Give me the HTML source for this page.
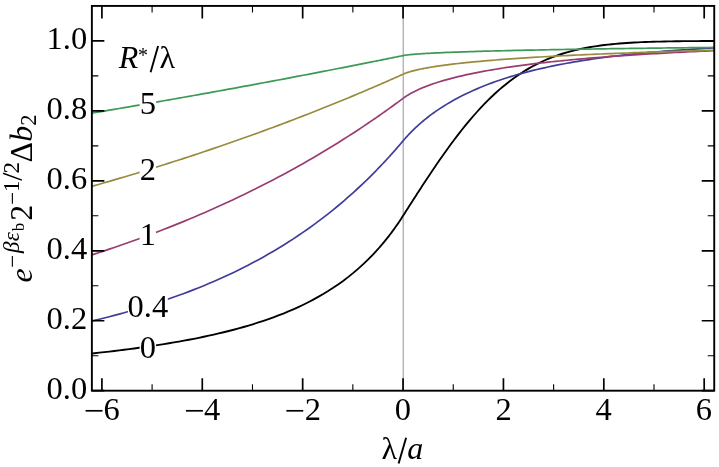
<!DOCTYPE html>
<html><head><meta charset="utf-8"><title>chart</title>
<style>html,body{margin:0;padding:0;background:#fff;overflow:hidden}svg{display:block;will-change:transform}</style></head>
<body>
<svg width="719" height="467" viewBox="0 0 719 467">
<rect width="719" height="467" fill="#fff"/>
<defs><clipPath id="c"><rect x="91.87" y="5.92" width="622.36" height="384.78"/></clipPath></defs>
<line x1="403.25" x2="403.25" y1="5.92" y2="390.70" stroke="#adadad" stroke-width="1.3"/>
<g clip-path="url(#c)" fill="none" stroke-linejoin="round">
<path d="M89.36,353.74 L94.34,353.22 L99.31,352.68 L104.29,352.13 L109.26,351.56 L114.24,350.98 L119.21,350.38 L124.19,349.76 L129.16,349.12 L134.14,348.47 L139.11,347.79 L144.09,347.10 L149.06,346.38 L154.04,345.64 L159.01,344.88 L163.99,344.09 L168.96,343.28 L173.94,342.44 L178.91,341.57 L183.89,340.68 L188.86,339.75 L193.84,338.79 L198.81,337.79 L203.79,336.76 L208.76,335.70 L213.74,334.59 L218.71,333.44 L223.69,332.25 L228.66,331.02 L233.64,329.73 L238.61,328.39 L243.59,327.00 L248.56,325.55 L253.54,324.05 L258.51,322.47 L263.49,320.83 L268.46,319.12 L273.44,317.34 L278.41,315.47 L283.39,313.52 L288.36,311.47 L293.34,309.33 L298.31,307.09 L303.29,304.73 L308.26,302.26 L313.24,299.66 L318.21,296.93 L323.19,294.05 L328.16,291.02 L333.14,287.82 L338.11,284.45 L343.09,280.89 L348.06,277.12 L353.04,273.12 L358.01,268.89 L362.99,264.41 L367.96,259.64 L372.94,254.57 L373.94,253.51 L374.94,252.44 L375.95,251.35 L376.95,250.24 L377.96,249.13 L378.96,248.00 L379.96,246.85 L380.97,245.69 L381.97,244.51 L382.97,243.32 L383.98,242.11 L384.98,240.89 L385.99,239.65 L386.99,238.40 L387.99,237.12 L389.00,235.83 L390.00,234.53 L391.00,233.20 L392.01,231.86 L393.01,230.50 L394.02,229.12 L395.02,227.72 L396.02,226.30 L397.03,224.86 L398.03,223.40 L399.03,221.92 L400.04,220.43 L401.04,218.91 L402.05,217.36 L403.05,215.80 L404.05,214.23 L405.06,212.65 L406.06,211.08 L407.07,209.50 L408.07,207.93 L409.07,206.36 L410.08,204.79 L411.08,203.22 L412.08,201.65 L413.09,200.09 L414.09,198.52 L415.10,196.96 L416.10,195.40 L417.10,193.85 L418.11,192.29 L419.11,190.74 L420.11,189.19 L421.12,187.65 L422.12,186.11 L423.13,184.57 L424.13,183.04 L425.13,181.51 L426.14,179.99 L427.14,178.47 L428.15,176.95 L429.15,175.44 L430.15,173.93 L431.16,172.43 L432.16,170.94 L433.16,169.45 L435.67,165.75 L439.42,160.30 L443.17,154.94 L446.92,149.68 L450.66,144.53 L454.41,139.49 L458.16,134.58 L461.91,129.79 L465.65,125.13 L469.40,120.61 L473.15,116.23 L476.90,111.99 L480.64,107.90 L484.39,103.96 L488.14,100.16 L491.89,96.51 L495.63,93.02 L499.38,89.67 L503.13,86.48 L506.88,83.43 L510.62,80.53 L514.37,77.77 L518.12,75.15 L521.87,72.67 L525.61,70.33 L529.36,68.12 L533.11,66.04 L536.86,64.08 L540.60,62.25 L544.35,60.52 L548.10,58.91 L551.85,57.41 L555.59,56.01 L559.34,54.71 L563.09,53.50 L566.84,52.37 L570.58,51.34 L574.33,50.38 L578.08,49.49 L581.83,48.68 L585.57,47.93 L589.32,47.24 L593.07,46.62 L596.82,46.04 L600.56,45.52 L604.31,45.04 L608.06,44.61 L611.81,44.21 L615.55,43.86 L619.30,43.53 L623.05,43.24 L626.80,42.98 L630.54,42.75 L634.29,42.53 L638.04,42.34 L641.79,42.17 L645.53,42.02 L649.28,41.89 L653.03,41.77 L656.78,41.66 L660.52,41.56 L664.27,41.48 L668.02,41.41 L671.77,41.34 L675.51,41.28 L679.26,41.23 L683.01,41.19 L686.76,41.15 L690.50,41.12 L694.25,41.09 L698.00,41.06 L701.75,41.04 L705.49,41.02 L709.24,41.00 L712.99,40.99 L716.74,40.97" stroke="#000000" stroke-width="1.85"/>
<path d="M89.36,321.60 L94.34,320.42 L99.31,319.21 L104.29,317.97 L109.26,316.70 L114.24,315.40 L119.21,314.07 L124.19,312.70 L129.16,311.30 L134.14,309.87 L139.11,308.41 L144.09,306.90 L149.06,305.36 L154.04,303.79 L159.01,302.17 L163.99,300.51 L168.96,298.81 L173.94,297.07 L178.91,295.29 L183.89,293.46 L188.86,291.58 L193.84,289.66 L198.81,287.69 L203.79,285.67 L208.76,283.59 L213.74,281.47 L218.71,279.29 L223.69,277.05 L228.66,274.75 L233.64,272.40 L238.61,269.98 L243.59,267.51 L248.56,264.96 L253.54,262.35 L258.51,259.68 L263.49,256.93 L268.46,254.11 L273.44,251.21 L278.41,248.24 L283.39,245.19 L288.36,242.06 L293.34,238.85 L298.31,235.55 L303.29,232.16 L308.26,228.68 L313.24,225.11 L318.21,221.44 L323.19,217.67 L328.16,213.80 L333.14,209.82 L338.11,205.74 L343.09,201.54 L348.06,197.23 L353.04,192.80 L358.01,188.25 L362.99,183.58 L367.96,178.77 L372.94,173.84 L373.94,172.82 L374.94,171.81 L375.95,170.78 L376.95,169.75 L377.96,168.72 L378.96,167.68 L379.96,166.63 L380.97,165.58 L381.97,164.52 L382.97,163.46 L383.98,162.39 L384.98,161.31 L385.99,160.23 L386.99,159.14 L387.99,158.05 L389.00,156.95 L390.00,155.84 L391.00,154.73 L392.01,153.61 L393.01,152.49 L394.02,151.35 L395.02,150.22 L396.02,149.07 L397.03,147.92 L398.03,146.77 L399.03,145.61 L400.04,144.44 L401.04,143.26 L402.05,142.08 L403.05,140.89 L404.05,139.71 L405.06,138.55 L406.06,137.42 L407.07,136.31 L408.07,135.22 L409.07,134.15 L410.08,133.10 L411.08,132.07 L412.08,131.06 L413.09,130.07 L414.09,129.09 L415.10,128.13 L416.10,127.19 L417.10,126.26 L418.11,125.35 L419.11,124.45 L420.11,123.57 L421.12,122.70 L422.12,121.84 L423.13,120.99 L424.13,120.16 L425.13,119.35 L426.14,118.54 L427.14,117.74 L428.15,116.96 L429.15,116.19 L430.15,115.43 L431.16,114.68 L432.16,113.94 L433.16,113.21 L435.67,111.43 L439.42,108.88 L443.17,106.45 L446.92,104.13 L450.66,101.92 L454.41,99.80 L458.16,97.78 L461.91,95.84 L465.65,93.99 L469.40,92.21 L473.15,90.50 L476.90,88.86 L480.64,87.28 L484.39,85.76 L488.14,84.31 L491.89,82.90 L495.63,81.55 L499.38,80.25 L503.13,79.00 L506.88,77.79 L510.62,76.62 L514.37,75.50 L518.12,74.42 L521.87,73.37 L525.61,72.36 L529.36,71.38 L533.11,70.44 L536.86,69.53 L540.60,68.65 L544.35,67.80 L548.10,66.98 L551.85,66.19 L555.59,65.42 L559.34,64.68 L563.09,63.96 L566.84,63.26 L570.58,62.59 L574.33,61.94 L578.08,61.31 L581.83,60.70 L585.57,60.11 L589.32,59.54 L593.07,58.98 L596.82,58.45 L600.56,57.93 L604.31,57.42 L608.06,56.94 L611.81,56.46 L615.55,56.01 L619.30,55.56 L623.05,55.13 L626.80,54.71 L630.54,54.31 L634.29,53.92 L638.04,53.54 L641.79,53.17 L645.53,52.81 L649.28,52.47 L653.03,52.13 L656.78,51.81 L660.52,51.49 L664.27,51.19 L668.02,50.89 L671.77,50.60 L675.51,50.32 L679.26,50.05 L683.01,49.79 L686.76,49.53 L690.50,49.28 L694.25,49.04 L698.00,48.81 L701.75,48.58 L705.49,48.36 L709.24,48.15 L712.99,47.94 L716.74,47.74" stroke="#3f3d99" stroke-width="1.70"/>
<path d="M89.36,255.71 L94.34,254.11 L99.31,252.48 L104.29,250.84 L109.26,249.17 L114.24,247.49 L119.21,245.78 L124.19,244.04 L129.16,242.29 L134.14,240.51 L139.11,238.70 L144.09,236.88 L149.06,235.02 L154.04,233.15 L159.01,231.24 L163.99,229.32 L168.96,227.36 L173.94,225.38 L178.91,223.38 L183.89,221.35 L188.86,219.29 L193.84,217.20 L198.81,215.08 L203.79,212.94 L208.76,210.76 L213.74,208.56 L218.71,206.33 L223.69,204.07 L228.66,201.77 L233.64,199.45 L238.61,197.10 L243.59,194.71 L248.56,192.29 L253.54,189.84 L258.51,187.35 L263.49,184.83 L268.46,182.28 L273.44,179.70 L278.41,177.07 L283.39,174.42 L288.36,171.72 L293.34,168.99 L298.31,166.22 L303.29,163.42 L308.26,160.58 L313.24,157.70 L318.21,154.77 L323.19,151.81 L328.16,148.81 L333.14,145.77 L338.11,142.69 L343.09,139.56 L348.06,136.40 L353.04,133.19 L358.01,129.93 L362.99,126.63 L367.96,123.29 L372.94,119.90 L373.94,119.21 L374.94,118.52 L375.95,117.83 L376.95,117.13 L377.96,116.43 L378.96,115.73 L379.96,115.03 L380.97,114.33 L381.97,113.63 L382.97,112.92 L383.98,112.21 L384.98,111.50 L385.99,110.79 L386.99,110.07 L387.99,109.36 L389.00,108.64 L390.00,107.92 L391.00,107.19 L392.01,106.47 L393.01,105.74 L394.02,105.02 L395.02,104.29 L396.02,103.55 L397.03,102.82 L398.03,102.08 L399.03,101.34 L400.04,100.60 L401.04,99.86 L402.05,99.12 L403.05,98.37 L404.05,97.64 L405.06,96.94 L406.06,96.27 L407.07,95.62 L408.07,95.00 L409.07,94.40 L410.08,93.82 L411.08,93.26 L412.08,92.71 L413.09,92.18 L414.09,91.66 L415.10,91.16 L416.10,90.67 L417.10,90.20 L418.11,89.73 L419.11,89.28 L420.11,88.83 L421.12,88.40 L422.12,87.97 L423.13,87.56 L424.13,87.15 L425.13,86.75 L426.14,86.36 L427.14,85.98 L428.15,85.60 L429.15,85.23 L430.15,84.87 L431.16,84.51 L432.16,84.16 L433.16,83.81 L435.67,82.97 L439.42,81.78 L443.17,80.66 L446.92,79.59 L450.66,78.58 L454.41,77.61 L458.16,76.68 L461.91,75.80 L465.65,74.95 L469.40,74.14 L473.15,73.36 L476.90,72.61 L480.64,71.88 L484.39,71.19 L488.14,70.51 L491.89,69.86 L495.63,69.23 L499.38,68.62 L503.13,68.03 L506.88,67.46 L510.62,66.91 L514.37,66.37 L518.12,65.85 L521.87,65.34 L525.61,64.85 L529.36,64.37 L533.11,63.91 L536.86,63.45 L540.60,63.01 L544.35,62.58 L548.10,62.17 L551.85,61.76 L555.59,61.36 L559.34,60.98 L563.09,60.60 L566.84,60.23 L570.58,59.87 L574.33,59.52 L578.08,59.18 L581.83,58.85 L585.57,58.52 L589.32,58.20 L593.07,57.89 L596.82,57.59 L600.56,57.29 L604.31,57.00 L608.06,56.72 L611.81,56.44 L615.55,56.17 L619.30,55.90 L623.05,55.64 L626.80,55.38 L630.54,55.13 L634.29,54.89 L638.04,54.65 L641.79,54.42 L645.53,54.19 L649.28,53.96 L653.03,53.74 L656.78,53.53 L660.52,53.31 L664.27,53.11 L668.02,52.90 L671.77,52.70 L675.51,52.51 L679.26,52.32 L683.01,52.13 L686.76,51.95 L690.50,51.77 L694.25,51.59 L698.00,51.41 L701.75,51.24 L705.49,51.08 L709.24,50.91 L712.99,50.75 L716.74,50.59" stroke="#993d71" stroke-width="1.70"/>
<path d="M89.36,187.08 L94.34,185.67 L99.31,184.24 L104.29,182.80 L109.26,181.36 L114.24,179.90 L119.21,178.43 L124.19,176.95 L129.16,175.47 L134.14,173.97 L139.11,172.45 L144.09,170.93 L149.06,169.40 L154.04,167.86 L159.01,166.30 L163.99,164.73 L168.96,163.15 L173.94,161.56 L178.91,159.96 L183.89,158.35 L188.86,156.72 L193.84,155.09 L198.81,153.44 L203.79,151.78 L208.76,150.11 L213.74,148.42 L218.71,146.72 L223.69,145.01 L228.66,143.29 L233.64,141.55 L238.61,139.81 L243.59,138.05 L248.56,136.27 L253.54,134.49 L258.51,132.69 L263.49,130.87 L268.46,129.05 L273.44,127.21 L278.41,125.36 L283.39,123.49 L288.36,121.61 L293.34,119.71 L298.31,117.81 L303.29,115.89 L308.26,113.95 L313.24,112.00 L318.21,110.03 L323.19,108.06 L328.16,106.06 L333.14,104.05 L338.11,102.03 L343.09,99.99 L348.06,97.94 L353.04,95.87 L358.01,93.79 L362.99,91.69 L367.96,89.58 L372.94,87.45 L373.94,87.02 L374.94,86.59 L375.95,86.16 L376.95,85.72 L377.96,85.29 L378.96,84.85 L379.96,84.42 L380.97,83.98 L381.97,83.55 L382.97,83.11 L383.98,82.67 L384.98,82.23 L385.99,81.79 L386.99,81.35 L387.99,80.91 L389.00,80.47 L390.00,80.03 L391.00,79.59 L392.01,79.14 L393.01,78.70 L394.02,78.26 L395.02,77.81 L396.02,77.37 L397.03,76.92 L398.03,76.47 L399.03,76.03 L400.04,75.58 L401.04,75.13 L402.05,74.68 L403.05,74.23 L404.05,73.80 L405.06,73.40 L406.06,73.02 L407.07,72.67 L408.07,72.34 L409.07,72.02 L410.08,71.72 L411.08,71.43 L412.08,71.15 L413.09,70.88 L414.09,70.63 L415.10,70.38 L416.10,70.14 L417.10,69.90 L418.11,69.68 L419.11,69.45 L420.11,69.24 L421.12,69.03 L422.12,68.83 L423.13,68.63 L424.13,68.43 L425.13,68.24 L426.14,68.06 L427.14,67.88 L428.15,67.70 L429.15,67.52 L430.15,67.35 L431.16,67.18 L432.16,67.02 L433.16,66.86 L435.67,66.46 L439.42,65.91 L443.17,65.38 L446.92,64.89 L450.66,64.41 L454.41,63.96 L458.16,63.53 L461.91,63.12 L465.65,62.72 L469.40,62.34 L473.15,61.97 L476.90,61.62 L480.64,61.28 L484.39,60.95 L488.14,60.63 L491.89,60.32 L495.63,60.01 L499.38,59.72 L503.13,59.44 L506.88,59.16 L510.62,58.89 L514.37,58.63 L518.12,58.38 L521.87,58.13 L525.61,57.89 L529.36,57.65 L533.11,57.42 L536.86,57.20 L540.60,56.98 L544.35,56.76 L548.10,56.55 L551.85,56.34 L555.59,56.14 L559.34,55.95 L563.09,55.75 L566.84,55.56 L570.58,55.38 L574.33,55.20 L578.08,55.02 L581.83,54.84 L585.57,54.67 L589.32,54.50 L593.07,54.34 L596.82,54.18 L600.56,54.02 L604.31,53.86 L608.06,53.71 L611.81,53.56 L615.55,53.41 L619.30,53.26 L623.05,53.12 L626.80,52.98 L630.54,52.84 L634.29,52.70 L638.04,52.57 L641.79,52.44 L645.53,52.31 L649.28,52.18 L653.03,52.06 L656.78,51.93 L660.52,51.81 L664.27,51.69 L668.02,51.57 L671.77,51.46 L675.51,51.34 L679.26,51.23 L683.01,51.12 L686.76,51.01 L690.50,50.90 L694.25,50.79 L698.00,50.69 L701.75,50.59 L705.49,50.48 L709.24,50.38 L712.99,50.28 L716.74,50.19" stroke="#998b3d" stroke-width="1.70"/>
<path d="M89.36,113.57 L94.34,112.73 L99.31,111.89 L104.29,111.05 L109.26,110.21 L114.24,109.37 L119.21,108.52 L124.19,107.67 L129.16,106.82 L134.14,105.96 L139.11,105.10 L144.09,104.24 L149.06,103.38 L154.04,102.51 L159.01,101.64 L163.99,100.77 L168.96,99.90 L173.94,99.02 L178.91,98.14 L183.89,97.26 L188.86,96.37 L193.84,95.49 L198.81,94.60 L203.79,93.70 L208.76,92.81 L213.74,91.91 L218.71,91.01 L223.69,90.10 L228.66,89.20 L233.64,88.29 L238.61,87.38 L243.59,86.46 L248.56,85.54 L253.54,84.62 L258.51,83.70 L263.49,82.77 L268.46,81.84 L273.44,80.91 L278.41,79.98 L283.39,79.04 L288.36,78.10 L293.34,77.15 L298.31,76.21 L303.29,75.26 L308.26,74.31 L313.24,73.35 L318.21,72.39 L323.19,71.43 L328.16,70.47 L333.14,69.50 L338.11,68.53 L343.09,67.56 L348.06,66.58 L353.04,65.60 L358.01,64.62 L362.99,63.64 L367.96,62.65 L372.94,61.66 L373.94,61.46 L374.94,61.26 L375.95,61.06 L376.95,60.86 L377.96,60.66 L378.96,60.46 L379.96,60.25 L380.97,60.05 L381.97,59.85 L382.97,59.65 L383.98,59.45 L384.98,59.25 L385.99,59.05 L386.99,58.84 L387.99,58.64 L389.00,58.44 L390.00,58.24 L391.00,58.04 L392.01,57.83 L393.01,57.63 L394.02,57.43 L395.02,57.22 L396.02,57.02 L397.03,56.82 L398.03,56.61 L399.03,56.41 L400.04,56.21 L401.04,56.00 L402.05,55.80 L403.05,55.60 L404.05,55.41 L405.06,55.25 L406.06,55.11 L407.07,54.98 L408.07,54.86 L409.07,54.75 L410.08,54.65 L411.08,54.55 L412.08,54.46 L413.09,54.37 L414.09,54.28 L415.10,54.20 L416.10,54.13 L417.10,54.05 L418.11,53.98 L419.11,53.91 L420.11,53.84 L421.12,53.77 L422.12,53.71 L423.13,53.64 L424.13,53.58 L425.13,53.52 L426.14,53.46 L427.14,53.41 L428.15,53.35 L429.15,53.30 L430.15,53.24 L431.16,53.19 L432.16,53.14 L433.16,53.09 L435.67,52.96 L439.42,52.79 L443.17,52.63 L446.92,52.47 L450.66,52.32 L454.41,52.18 L458.16,52.04 L461.91,51.91 L465.65,51.79 L469.40,51.67 L473.15,51.55 L476.90,51.44 L480.64,51.33 L484.39,51.22 L488.14,51.12 L491.89,51.02 L495.63,50.92 L499.38,50.82 L503.13,50.73 L506.88,50.64 L510.62,50.55 L514.37,50.47 L518.12,50.38 L521.87,50.30 L525.61,50.22 L529.36,50.14 L533.11,50.06 L536.86,49.99 L540.60,49.91 L544.35,49.84 L548.10,49.77 L551.85,49.70 L555.59,49.63 L559.34,49.56 L563.09,49.49 L566.84,49.43 L570.58,49.36 L574.33,49.30 L578.08,49.24 L581.83,49.17 L585.57,49.11 L589.32,49.05 L593.07,48.99 L596.82,48.94 L600.56,48.88 L604.31,48.82 L608.06,48.77 L611.81,48.71 L615.55,48.66 L619.30,48.61 L623.05,48.55 L626.80,48.50 L630.54,48.45 L634.29,48.40 L638.04,48.35 L641.79,48.30 L645.53,48.25 L649.28,48.20 L653.03,48.16 L656.78,48.11 L660.52,48.06 L664.27,48.02 L668.02,47.97 L671.77,47.93 L675.51,47.88 L679.26,47.84 L683.01,47.80 L686.76,47.75 L690.50,47.71 L694.25,47.67 L698.00,47.63 L701.75,47.59 L705.49,47.55 L709.24,47.51 L712.99,47.47 L716.74,47.43" stroke="#3d9956" stroke-width="1.70"/>
</g>
<path d="M101.91,390.70 v-12.50 M101.91,5.92 v12.50 M202.29,390.70 v-12.50 M202.29,5.92 v12.50 M302.67,390.70 v-12.50 M302.67,5.92 v12.50 M403.05,390.70 v-12.50 M403.05,5.92 v12.50 M503.43,390.70 v-12.50 M503.43,5.92 v12.50 M603.81,390.70 v-12.50 M603.81,5.92 v12.50 M704.19,390.70 v-12.50 M704.19,5.92 v12.50 M91.87,390.70 h12.50 M714.23,390.70 h-12.50 M91.87,320.74 h12.50 M714.23,320.74 h-12.50 M91.87,250.78 h12.50 M714.23,250.78 h-12.50 M91.87,180.82 h12.50 M714.23,180.82 h-12.50 M91.87,110.86 h12.50 M714.23,110.86 h-12.50 M91.87,40.90 h12.50 M714.23,40.90 h-12.50" stroke="#000" stroke-width="1.7" fill="none"/>
<path d="M152.10,390.70 v-6.50 M152.10,5.92 v6.50 M252.48,390.70 v-6.50 M252.48,5.92 v6.50 M352.86,390.70 v-6.50 M352.86,5.92 v6.50 M453.24,390.70 v-6.50 M453.24,5.92 v6.50 M553.62,390.70 v-6.50 M553.62,5.92 v6.50 M654.00,390.70 v-6.50 M654.00,5.92 v6.50 M91.87,355.72 h6.50 M714.23,355.72 h-6.50 M91.87,285.76 h6.50 M714.23,285.76 h-6.50 M91.87,215.80 h6.50 M714.23,215.80 h-6.50 M91.87,145.84 h6.50 M714.23,145.84 h-6.50 M91.87,75.88 h6.50 M714.23,75.88 h-6.50" stroke="#000" stroke-width="1.1" fill="none"/>
<rect x="91.87" y="5.92" width="622.36" height="384.78" fill="none" stroke="#000" stroke-width="1.9"/>
<g font-family="'Liberation Serif', serif" font-size="32" fill="#000">
<rect x="85.61" y="409.95" width="16.90" height="1.7" fill="#000"/>
<text x="103.47" y="419.70" font-size="32.5">6</text>
<rect x="185.99" y="409.95" width="16.90" height="1.7" fill="#000"/>
<text x="204.00" y="419.70" font-size="32.5">4</text>
<rect x="286.37" y="409.95" width="16.90" height="1.7" fill="#000"/>
<text x="304.63" y="419.70" font-size="32.5">2</text>
<text x="394.82" y="419.70" font-size="32.5">0</text>
<text x="495.39" y="419.70" font-size="32.5">2</text>
<text x="595.52" y="419.70" font-size="32.5">4</text>
<text x="695.75" y="419.70" font-size="32.5">6</text>
<text x="87.2" y="398.80" font-size="32.5" text-anchor="end">0.0</text>
<text x="87.2" y="328.84" font-size="32.5" text-anchor="end">0.2</text>
<text x="87.2" y="258.88" font-size="32.5" text-anchor="end">0.4</text>
<text x="87.2" y="188.92" font-size="32.5" text-anchor="end">0.6</text>
<text x="87.2" y="118.96" font-size="32.5" text-anchor="end">0.8</text>
<text x="87.2" y="49.00" font-size="32.5" text-anchor="end">1.0</text>
<rect x="139.65" y="89.00" width="16.40" height="30" fill="#fff"/>
<text x="147.85" y="114.00" font-size="32.5" text-anchor="middle">5</text>
<rect x="139.65" y="154.70" width="16.40" height="30" fill="#fff"/>
<text x="147.85" y="179.70" font-size="32.5" text-anchor="middle">2</text>
<rect x="139.65" y="219.70" width="16.40" height="30" fill="#fff"/>
<text x="147.85" y="244.70" font-size="32.5" text-anchor="middle">1</text>
<rect x="127.90" y="292.30" width="39.90" height="30" fill="#fff"/>
<text x="147.85" y="317.30" font-size="32.5" text-anchor="middle">0.4</text>
<rect x="139.65" y="333.40" width="16.40" height="30" fill="#fff"/>
<text x="147.85" y="358.40" font-size="32.5" text-anchor="middle">0</text>
<text x="118.73" y="67.60" font-style="italic">R</text>
<text x="138.04" y="61.80" font-size="20">*</text>
<path d="M150.60,72.20 L158.10,46.10" stroke="#000" stroke-width="1.90" fill="none"/>
<text x="159.56" y="67.60">λ</text>
<text x="381.41" y="458.80">λ</text>
<path d="M398.60,463.50 L406.10,437.70" stroke="#000" stroke-width="1.90" fill="none"/>
<text x="407.18" y="458.80" font-style="italic">a</text>
<g transform="translate(32.1,281.7) rotate(-90)">
<text x="-0.88" y="0.00" font-style="italic">e</text>
<text x="13.95" y="-11.70" font-size="23">−</text>
<text x="28.62" y="-13.40" font-size="23" font-style="italic">β</text>
<text x="40.53" y="-13.40" font-size="23" font-style="italic">ε</text>
<text x="50.37" y="-7.70" font-size="17">b</text>
<text x="60.83" y="0.00">2</text>
<text x="77.00" y="-11.70" font-size="23">−</text>
<text x="89.73" y="-13.40" font-size="23">1</text>
<path d="M101.60,-10.20 L108.50,-29.00" stroke="#000" stroke-width="1.50" fill="none"/>
<text x="108.18" y="-13.40" font-size="23">2</text>
<text x="119.20" y="0.00">Δ</text>
<text x="139.89" y="0.00" font-style="italic">b</text>
<text x="156.00" y="3.90" font-size="22.5">2</text>
</g>
</g>
</svg>
</body></html>
